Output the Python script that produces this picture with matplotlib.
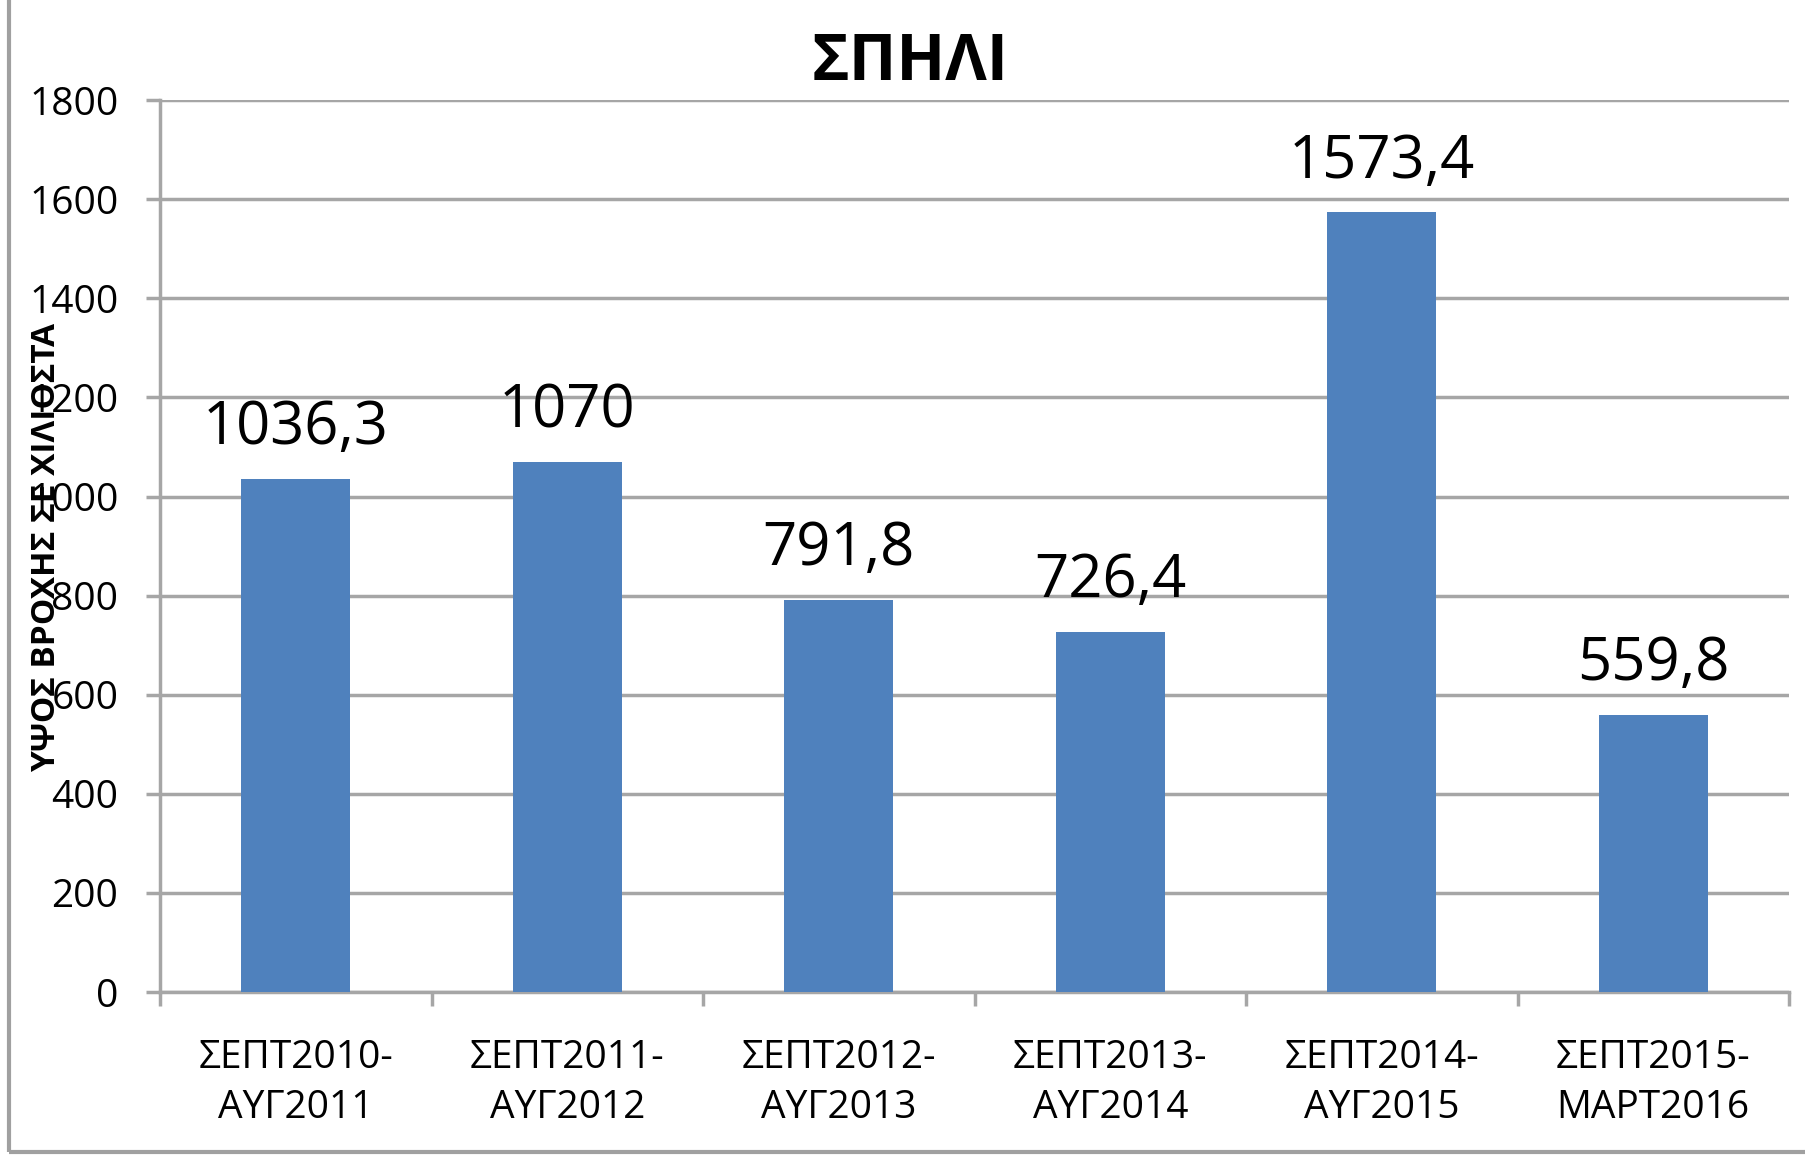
import matplotlib
matplotlib.use("Agg")
import matplotlib.pyplot as plt
from matplotlib.patches import Rectangle
import numpy as np

plt.rcParams['font.family'] = ['Liberation Sans Narrow', 'Open Sans', 'DejaVu Sans']

# δεδομένα
periods = ['ΣΕΠΤ2010-\nΑΥΓ2011', 'ΣΕΠΤ2011-\nΑΥΓ2012', 'ΣΕΠΤ2012-\nΑΥΓ2013',
           'ΣΕΠΤ2013-\nΑΥΓ2014', 'ΣΕΠΤ2014-\nΑΥΓ2015', 'ΣΕΠΤ2015-\nΜΑΡΤ2016']
rain_mm = [1036.3, 1070, 791.8, 726.4, 1573.4, 559.8]
labels = ['1036,3', '1070', '791,8', '726,4', '1573,4', '559,8']
y_ticks = [0, 200, 400, 600, 800, 1000, 1200, 1400, 1600, 1800]

grid_col = '#a6a6a6'

fig = plt.figure(figsize=(18.06, 11.59), dpi=100)
ax = fig.add_axes([0.0886, 0.144, 0.902, 0.7697])

x = np.arange(len(periods))
bars = ax.bar(x, rain_mm, width=0.4, color='#4F81BD', zorder=3)

for b, lab in zip(bars, labels):
    ax.annotate(lab, (b.get_x() + b.get_width() / 2, b.get_height()),
                xytext=(0, 25), textcoords='offset points',
                ha='center', va='baseline', fontsize=43)

ax.set_xlim(-0.5, len(periods) - 0.5)
ax.set_ylim(0, 1800)
ax.set_yticks(y_ticks)
ax.set_yticklabels([str(v) for v in y_ticks], fontsize=28)
ax.set_xticks(x)
ax.set_xticklabels(periods, fontsize=28, linespacing=1.4)
ax.tick_params(axis='x', length=0, pad=34)
ax.set_xticks(np.arange(-0.5, len(periods)), minor=True)
ax.tick_params(axis='x', which='minor', length=10, width=2.5, color=grid_col)
ax.tick_params(axis='y', length=10, width=2.5, color=grid_col, pad=20)

ax.grid(axis='y', color=grid_col, linewidth=2.5, zorder=0)
ax.set_axisbelow(True)
for s in ['top', 'right']:
    ax.spines[s].set_visible(False)
for s in ['left', 'bottom']:
    ax.spines[s].set_color(grid_col)
    ax.spines[s].set_linewidth(2.5)

fig.text(0.504, 0.945, 'ΣΠΗΛΙ', ha='center', va='center', fontsize=46, fontweight='bold')
fig.text(0.0255, 0.528, 'ΥΨΟΣ ΒΡΟΧΗΣ ΣΕ ΧΙΛΙΟΣΤΑ', ha='center', va='center',
         rotation=90, fontsize=24, fontweight='bold')

# εξωτερικό πλαίσιο
fig.add_artist(Rectangle((0.005, 0.006), 1.2, 1.2, transform=fig.transFigure,
                         fill=False, edgecolor='#a0a0a0', linewidth=3))

fig.savefig('out.png', dpi=100)
